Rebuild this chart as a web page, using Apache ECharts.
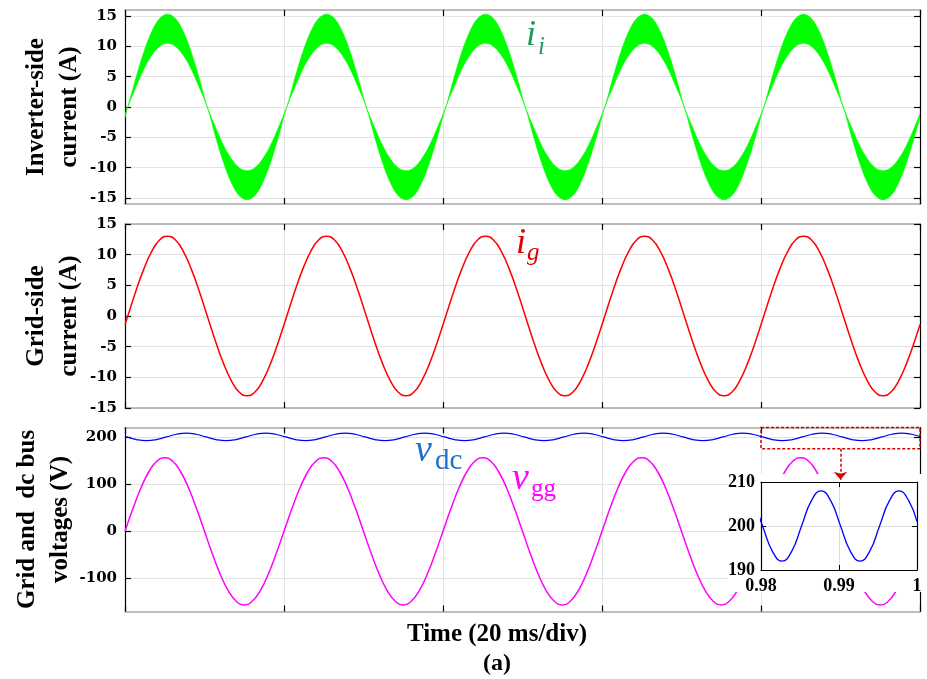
<!DOCTYPE html>
<html lang="en">
<head>
<meta charset="UTF-8">
<title>Inverter-side / grid-side currents and voltages</title>
<script src="https://cdn.jsdelivr.net/npm/echarts@6/dist/echarts.min.js"></script>
<style>html,body{margin:0;padding:0;background:#fff;}</style>
</head>
<body>
<div id="dv" style="width:927px;height:679px;"></div>
<script>
// sample times in ms (0.90 s .. 1.00 s); the currents lag the grid voltage by ~0.35 ms,
// so their samples are taken on a shifted 1 ms grid, plus both end points
var tV = [], tI = [900], tDc = [900];
for (var k = 0; k <= 100; k++) tV.push(900 + k);
for (var k = 0; k < 100; k++) tI.push(900.35 + k);
tI.push(1000);
for (var k = 0; k < 80; k++) tDc.push(900.2 + 1.25 * k);
tDc.push(1000);

// inverter-side current i_i : upper / lower edge of the ripple band (A), on tI
var iiUpper = [-1.2,
  0, 4.7, 9.0, 12.4, 14.6, 15.3, 14.6, 12.4, 9.0, 4.7, 0, -3.2, -6.2, -8.5, -10.0, -10.5, -10.0, -8.5, -6.2, -3.2,
  0, 4.7, 9.0, 12.4, 14.6, 15.3, 14.6, 12.4, 9.0, 4.7, 0, -3.2, -6.2, -8.5, -10.0, -10.5, -10.0, -8.5, -6.2, -3.2,
  0, 4.7, 9.0, 12.4, 14.6, 15.3, 14.6, 12.4, 9.0, 4.7, 0, -3.2, -6.2, -8.5, -10.0, -10.5, -10.0, -8.5, -6.2, -3.2,
  0, 4.7, 9.0, 12.4, 14.6, 15.3, 14.6, 12.4, 9.0, 4.7, 0, -3.2, -6.2, -8.5, -10.0, -10.5, -10.0, -8.5, -6.2, -3.2,
  0, 4.7, 9.0, 12.4, 14.6, 15.3, 14.6, 12.4, 9.0, 4.7, 0, -3.2, -6.2, -8.5, -10.0, -10.5, -10.0, -8.5, -6.2, -3.2,
  -1.2];
var iiLower = [-1.7,
  0, 3.2, 6.2, 8.5, 10.0, 10.5, 10.0, 8.5, 6.2, 3.2, 0, -4.7, -9.0, -12.4, -14.6, -15.3, -14.6, -12.4, -9.0, -4.7,
  0, 3.2, 6.2, 8.5, 10.0, 10.5, 10.0, 8.5, 6.2, 3.2, 0, -4.7, -9.0, -12.4, -14.6, -15.3, -14.6, -12.4, -9.0, -4.7,
  0, 3.2, 6.2, 8.5, 10.0, 10.5, 10.0, 8.5, 6.2, 3.2, 0, -4.7, -9.0, -12.4, -14.6, -15.3, -14.6, -12.4, -9.0, -4.7,
  0, 3.2, 6.2, 8.5, 10.0, 10.5, 10.0, 8.5, 6.2, 3.2, 0, -4.7, -9.0, -12.4, -14.6, -15.3, -14.6, -12.4, -9.0, -4.7,
  0, 3.2, 6.2, 8.5, 10.0, 10.5, 10.0, 8.5, 6.2, 3.2, 0, -4.7, -9.0, -12.4, -14.6, -15.3, -14.6, -12.4, -9.0, -4.7,
  -1.7];
// grid-side current i_g (A), on tI
var ig = [-1.4,
  0, 4.0, 7.6, 10.5, 12.4, 13.0, 12.4, 10.5, 7.6, 4.0, 0, -4.0, -7.6, -10.5, -12.4, -13.0, -12.4, -10.5, -7.6, -4.0,
  0, 4.0, 7.6, 10.5, 12.4, 13.0, 12.4, 10.5, 7.6, 4.0, 0, -4.0, -7.6, -10.5, -12.4, -13.0, -12.4, -10.5, -7.6, -4.0,
  0, 4.0, 7.6, 10.5, 12.4, 13.0, 12.4, 10.5, 7.6, 4.0, 0, -4.0, -7.6, -10.5, -12.4, -13.0, -12.4, -10.5, -7.6, -4.0,
  0, 4.0, 7.6, 10.5, 12.4, 13.0, 12.4, 10.5, 7.6, 4.0, 0, -4.0, -7.6, -10.5, -12.4, -13.0, -12.4, -10.5, -7.6, -4.0,
  0, 4.0, 7.6, 10.5, 12.4, 13.0, 12.4, 10.5, 7.6, 4.0, 0, -4.0, -7.6, -10.5, -12.4, -13.0, -12.4, -10.5, -7.6, -4.0,
  -1.4];
// grid voltage v_gg (V), on tV
var vgg = [
  0, 48.2, 91.7, 126.2, 148.4, 156, 148.4, 126.2, 91.7, 48.2, 0, -48.2, -91.7, -126.2, -148.4, -156, -148.4, -126.2, -91.7, -48.2,
  0, 48.2, 91.7, 126.2, 148.4, 156, 148.4, 126.2, 91.7, 48.2, 0, -48.2, -91.7, -126.2, -148.4, -156, -148.4, -126.2, -91.7, -48.2,
  0, 48.2, 91.7, 126.2, 148.4, 156, 148.4, 126.2, 91.7, 48.2, 0, -48.2, -91.7, -126.2, -148.4, -156, -148.4, -126.2, -91.7, -48.2,
  0, 48.2, 91.7, 126.2, 148.4, 156, 148.4, 126.2, 91.7, 48.2, 0, -48.2, -91.7, -126.2, -148.4, -156, -148.4, -126.2, -91.7, -48.2,
  0, 48.2, 91.7, 126.2, 148.4, 156, 148.4, 126.2, 91.7, 48.2, 0, -48.2, -91.7, -126.2, -148.4, -156, -148.4, -126.2, -91.7, -48.2,
  0];
// dc bus voltage v_dc (V), on tDc
var vdc = [201.0,
  200, 194.3, 192, 194.3, 200, 205.7, 208, 205.7,
  200, 194.3, 192, 194.3, 200, 205.7, 208, 205.7,
  200, 194.3, 192, 194.3, 200, 205.7, 208, 205.7,
  200, 194.3, 192, 194.3, 200, 205.7, 208, 205.7,
  200, 194.3, 192, 194.3, 200, 205.7, 208, 205.7,
  200, 194.3, 192, 194.3, 200, 205.7, 208, 205.7,
  200, 194.3, 192, 194.3, 200, 205.7, 208, 205.7,
  200, 194.3, 192, 194.3, 200, 205.7, 208, 205.7,
  200, 194.3, 192, 194.3, 200, 205.7, 208, 205.7,
  200, 194.3, 192, 194.3, 200, 205.7, 208, 205.7,
  201.0];

// tick labels
var ticksI1 = [-15, -10, -5, 0, 5, 10, 15];
var ticksV = [-100, 0, 100, 200];
var zoomBox = [980, 1000, 175, 220];   // ms, ms, V, V

function pts(ts, vals) {
  return ts.map(function (t, i) { return [t, vals[i]]; });
}

var SERIF = 'Liberation Serif';
var nameStyle = { fontFamily: SERIF, fontWeight: 'bold', fontSize: 25, lineHeight: 33, color: '#000' };
var tickFont = { fontFamily: 'DejaVu Serif', fontWeight: 'bold', fontSize: 15, color: '#000' };

function xAx(gi, pos, split) {
  return {
    gridIndex: gi, type: 'value', position: pos, min: 900, max: 1000, interval: 20,
    axisLine: { show: true, onZero: false, lineStyle: { color: '#a8a8a8', width: 1.5 } },
    axisTick: { show: true, inside: true, length: 6, lineStyle: { color: '#000', width: 1.2 } },
    axisLabel: { show: false },
    splitLine: { show: split, lineStyle: { color: '#e2e2e2', width: 1 } }
  };
}
function yAx(gi, pos, min, max, ticks, name, gap) {
  var left = pos === 'left';
  return {
    gridIndex: gi, type: 'value', position: pos, min: min, max: max,
    axisLine: { show: true, onZero: false, lineStyle: { color: '#000', width: 1.2 } },
    axisTick: { show: true, inside: true, length: 6, customValues: ticks, lineStyle: { color: '#000', width: 1.2 } },
    axisLabel: Object.assign({ show: left, customValues: ticks, margin: 8 }, tickFont),
    splitLine: { show: left, lineStyle: { color: '#e2e2e2', width: 1 } },
    name: left ? name : '', nameLocation: 'middle', nameRotate: 90, nameGap: gap,
    nameMoveOverlap: false,
    nameTextStyle: nameStyle
  };
}
function insetX(pos) {
  return {
    gridIndex: 3, type: 'value', position: pos, min: 980, max: 1000, interval: 10, z: 10,
    axisLine: { show: true, onZero: false, lineStyle: { color: '#000', width: 1.2 } },
    axisTick: { show: true, inside: true, length: 5, lineStyle: { color: '#000' } },
    axisLabel: {
      show: pos === 'bottom', margin: 7, fontFamily: SERIF, fontWeight: 'bold', fontSize: 18, color: '#000',
      formatter: function (v) { return String(v / 1000); }
    },
    splitLine: { show: pos === 'bottom', lineStyle: { color: '#dcdcdc' } }
  };
}
function insetY(pos) {
  return {
    gridIndex: 3, type: 'value', position: pos, min: 190, max: 210, interval: 10, z: 10,
    axisLine: { show: true, onZero: false, lineStyle: { color: '#000', width: 1.2 } },
    axisTick: { show: true, inside: true, length: 5, lineStyle: { color: '#000' } },
    axisLabel: { show: pos === 'left', margin: 6, fontFamily: SERIF, fontWeight: 'bold', fontSize: 18, color: '#000' },
    splitLine: { show: pos === 'left', lineStyle: { color: '#dcdcdc' } }
  };
}

function txt(str, x, y, size, color, italic) {
  return {
    type: 'text', x: x, y: y, z: 20,
    style: {
      text: str, fill: color, fontFamily: SERIF, fontSize: size,
      fontStyle: italic ? 'italic' : 'normal', fontWeight: 'normal',
      align: 'left', verticalAlign: 'middle'
    }
  };
}

var option = {
  animation: false,
  backgroundColor: '#fff',
  grid: [
    { left: 125, right: 7, top: 10, height: 194 },
    { left: 125, right: 7, top: 224, height: 184 },
    { left: 125, right: 7, top: 427.5, height: 184 },
    { left: 761, right: 10, top: 482, height: 88, z: 10 }
  ],
  xAxis: [
    xAx(0, 'bottom', true), xAx(0, 'top', false),
    xAx(1, 'bottom', true), xAx(1, 'top', false),
    xAx(2, 'bottom', true), xAx(2, 'top', false),
    insetX('bottom'), insetX('top')
  ],
  yAxis: [
    yAx(0, 'left', -16, 16, ticksI1, 'Inverter-side\ncurrent (A)', 39), yAx(0, 'right', -16, 16, ticksI1),
    yAx(1, 'left', -15, 15, ticksI1, 'Grid-side\ncurrent (A)', 39), yAx(1, 'right', -15, 15, ticksI1),
    yAx(2, 'left', -170, 220, ticksV, 'Grid and  dc bus\nvoltages (V)', 48), yAx(2, 'right', -170, 220, ticksV),
    insetY('left'), insetY('right')
  ],
  series: [
    {
      // ripple band of i_i, filled between its upper and lower edge
      type: 'custom', xAxisIndex: 0, yAxisIndex: 0, clip: true,
      data: tI.map(function (t, i) { return [t, iiUpper[i], iiLower[i]]; }),
      encode: { x: 0, y: [1, 2] },
      renderItem: function (params, api) {
        if (params.dataIndex !== 0) return null;
        var up = [], lo = [];
        for (var i = 0; i < tI.length; i++) {
          up.push(api.coord([tI[i], iiUpper[i]]));
          lo.push(api.coord([tI[i], iiLower[i]]));
        }
        return {
          type: 'polygon',
          shape: { points: up.concat(lo.reverse()), smooth: 0.35 },
          style: { fill: '#00ff00', stroke: '#00ff00', lineWidth: 0.6 }
        };
      }
    },
    {
      type: 'line', xAxisIndex: 2, yAxisIndex: 2, data: pts(tI, ig),
      smooth: true, showSymbol: false, symbol: 'none',
      lineStyle: { color: '#ff0000', width: 1.5 }
    },
    {
      type: 'line', xAxisIndex: 4, yAxisIndex: 4, data: pts(tV, vgg),
      smooth: true, showSymbol: false, symbol: 'none',
      lineStyle: { color: '#ff00ff', width: 1.5 }
    },
    {
      type: 'line', xAxisIndex: 4, yAxisIndex: 4, data: pts(tDc, vdc),
      smooth: true, showSymbol: false, symbol: 'none',
      lineStyle: { color: '#0000ff', width: 1.2 },
      markArea: {
        silent: true,
        itemStyle: { color: 'rgba(0,0,0,0)', borderColor: '#d40000', borderWidth: 1.5, borderType: [3, 2] },
        data: [[{ xAxis: zoomBox[0], yAxis: zoomBox[3] }, { xAxis: zoomBox[1], yAxis: zoomBox[2] }]]
      },
      markLine: {
        silent: true, z: 12, symbol: ['none', 'arrow'], symbolSize: [10, 8],
        label: { show: false },
        lineStyle: { color: '#d40000', width: 1.5, type: [3, 2] },
        data: [[{ coord: [990, zoomBox[2]] }, { coord: [990, 109] }]]
      }
    },
    {
      type: 'line', xAxisIndex: 6, yAxisIndex: 6, data: pts(tDc, vdc), z: 11,
      smooth: true, showSymbol: false, symbol: 'none',
      lineStyle: { color: '#0000ff', width: 1.3 }
    }
  ],
  graphic: {
    elements: [
      { type: 'rect', z: 4, shape: { x: 728, y: 474, width: 199, height: 118 }, style: { fill: '#fff' } },
      txt('i', 526, 36, 36, '#1e9b5a', true),
      txt('i', 538, 47, 25, '#1e9b5a', true),
      txt('i', 516, 244, 36, '#e00000', true),
      txt('g', 527, 253, 25, '#e00000', true),
      txt('v', 415, 451, 38, '#1f6fd1', true),
      txt('dc', 435, 461, 29, '#1f6fd1', false),
      txt('v', 512, 479, 38, '#ff00ff', true),
      txt('gg', 531, 489, 25, '#ff00ff', false),
      {
        type: 'text', x: 497, y: 635, z: 20,
        style: { text: 'Time (20 ms/div)', fill: '#000', fontFamily: SERIF, fontWeight: 'bold', fontSize: 25, align: 'center', verticalAlign: 'middle' }
      },
      {
        type: 'text', x: 497, y: 664, z: 20,
        style: { text: '(a)', fill: '#000', fontFamily: SERIF, fontWeight: 'bold', fontSize: 24, align: 'center', verticalAlign: 'middle' }
      }
    ]
  }
};

var chart = echarts.init(document.getElementById('dv'));
chart.setOption(option);
</script>
</body>
</html>
